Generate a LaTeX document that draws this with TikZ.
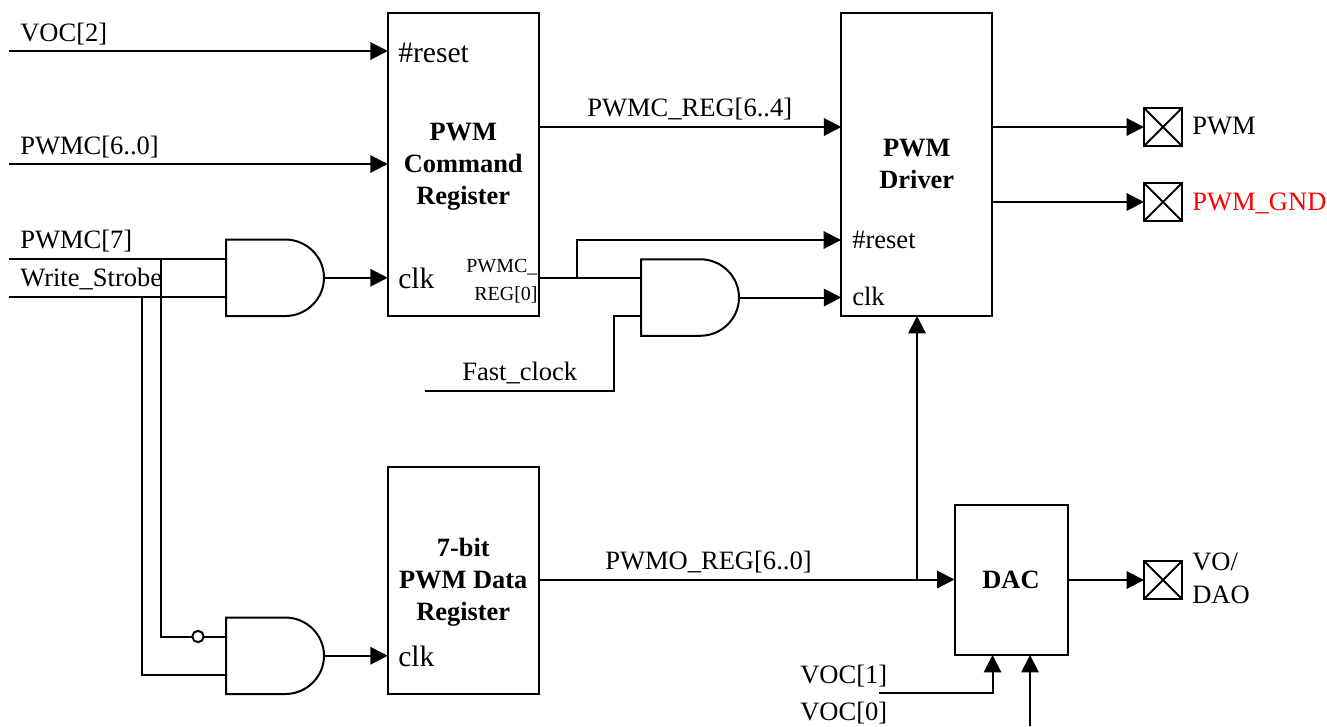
\documentclass[tikz,border=0pt]{standalone}
\usepackage{fontspec}
\setmainfont{Liberation Serif}
\usetikzlibrary{arrows.meta,calc}
\definecolor{pwmred}{RGB}{255,0,0}
\tikzset{
  x=0.75pt,y=-0.75pt,
  wire/.style={line width=1.5pt,line cap=butt,line join=miter},
  sig/.style={wire,-{Triangle[length=13pt,width=13pt]}},
  blockbox/.style={draw,line width=1.5pt,rectangle,inner sep=0pt,outer sep=0pt},
  blocktext/.style={inner sep=0pt,outer sep=0pt,align=center,
     font=\fontsize{19.8}{24}\selectfont\bfseries},
  padbox/.style={draw,line width=1.5pt,rectangle,inner sep=0pt,outer sep=0pt,
     minimum width=28.5pt,minimum height=28.5pt},
  lbl/.style={anchor=base west,inner sep=0pt,font=\fontsize{19.9}{24}\selectfont},
  biglbl/.style={anchor=base west,inner sep=0pt,font=\fontsize{22.2}{26}\selectfont},
  smalllbl/.style={anchor=base west,inner sep=0pt,font=\fontsize{15}{18}\selectfont},
}
\newcommand{\andgate}[3]{%
  \coordinate (#1-a) at (#2,#3+19);
  \coordinate (#1-b) at (#2,#3+57);
  \coordinate (#1-o) at (#2+98,#3+38.25);
  \draw[line width=1.5pt,line join=miter] (#2,#3) -- (#2+59,#3)
     arc[start angle=90,end angle=-90,x radius=29.25pt,y radius=28.7pt]
     -- (#2,#3+76.5) -- cycle;
}
\begin{document}
\begin{tikzpicture}
\useasboundingbox (0,0) rectangle (1327,726);

% blocks
\node[blockbox,minimum width=113.25pt,minimum height=227.25pt] (cmd) at (463.25,164.5) {};
\node[blockbox,minimum width=113.25pt,minimum height=227.25pt] (drv) at (916.75,164.5) {};
\node[blockbox,minimum width=113.25pt,minimum height=170.25pt] (data) at (463.25,580.5) {};
\node[blockbox,minimum width=84.75pt,minimum height=112.5pt] (dac) at (1011,580) {};
\node[blocktext] (cmdtext) at (463.25,166.5) {PWM\\Command\\Register};
\node[blocktext] (drvtext) at (916.75,163.5) {PWM\\Driver};
\node[blocktext] (datatext) at (463.25,582.5) {7-bit\\PWM Data\\Register};
\node[blocktext] (dactext) at (1011,580) {DAC};

% pads
\node[padbox] (padpwm) at (1163,127) {};
\node[padbox] (padgnd) at (1163,202) {};
\node[padbox] (padvo) at (1163,580) {};
\foreach \p in {padpwm,padgnd,padvo}{
  \draw[line width=1.5pt] (\p.north west) -- (\p.south east);
  \draw[line width=1.5pt] (\p.north east) -- (\p.south west);
}

% gates
\andgate{gone}{226}{239.5}
\andgate{gtwo}{641}{259.25}
\andgate{gthree}{226}{617.5}

% free ends and junctions
\coordinate (voctwo) at (9,51);
\coordinate (pwmcall) at (9,164);
\coordinate (pwmcsev) at (9,258.5);
\coordinate (wstrobe) at (9,296.5);
\coordinate (fastclk) at (425,391);
\coordinate (vocone) at (879,693);
\coordinate (voczero) at (1030,726);
\coordinate (jreset) at (577,278.25);
\coordinate (jfast) at (614,391);
\coordinate (jdrv) at (917,579.5);
\coordinate (jseven) at (161,258.5);
\coordinate (jwrite) at (142,296.5);
\node[circle,draw,line width=1.5pt,fill=white,inner sep=0pt,outer sep=0pt,minimum size=8.5pt] (bubble) at (198,636.5) {};

% connectors
\draw[sig] (voctwo) -- (voctwo -| cmd.west);
\draw[sig] (pwmcall) -- (pwmcall -| cmd.west);
\draw[wire] (pwmcsev) -- (gone-a);
\draw[wire] (wstrobe) -- (gone-b);
\draw[sig] (gone-o) -- (gone-o -| cmd.west);
\draw[wire] (jseven) -- (jseven |- bubble) -- (bubble.west);
\draw[wire] (bubble.east) -- (gthree-a);
\draw[wire] (jwrite) -- (jwrite |- gthree-b) -- (gthree-b);
\draw[sig] (gthree-o) -- (gthree-o -| data.west);
\draw[sig] ($(cmd.east |- drv.west)+(0,-37.5)$) -- ($(drv.west)+(0,-37.5)$);
\draw[sig] ($(drv.east)+(0,-37.5)$) -- (padpwm.west);
\draw[sig] (drv.east |- padgnd.west) -- (padgnd.west);
\draw[wire] (jreset -| cmd.east) -- (gtwo-a);
\draw[sig] (jreset) -- ++(0,-38.25) -- ++(264,0);
\draw[sig] (gtwo-o) -- (gtwo-o -| drv.west);
\draw[wire] (fastclk) -- (jfast) -- (jfast |- gtwo-b) -- (gtwo-b);
\draw[sig] (data.east |- jdrv) -- (jdrv) -- (jdrv -| dac.west);
\draw[sig] (jdrv) -- (jdrv |- drv.south);
\draw[sig] (dac.east) -- (padvo.west);
\draw[sig] (vocone) -- (vocone -| 992.5,0) -- (992.5,0 |- dac.south);
\draw[sig] (voczero) -- (voczero |- dac.south);

% labels
\node[lbl] (tvoctwo) at (20,41) {VOC[2]};
\node[lbl] (tpwmcall) at (20,154) {PWMC[6..0]};
\node[lbl] (tpwmcsev) at (20,248) {PWMC[7]};
\node[lbl] (twrite) at (20,286) {Write\_Strobe};
\node[biglbl] (tresetone) at (398,62) {\#reset};
\node[biglbl] (tclkone) at (398,288) {clk};
\node[biglbl] (tclktwo) at (398,666) {clk};
\node[smalllbl] (tregone) at (466,272) {PWMC\_};
\node[smalllbl] (tregtwo) at (474,300) {REG[0]};
\node[lbl] (tregsix) at (587,116) {PWMC\_REG[6..4]};
\node[lbl] (tresettwo) at (852,248) {\#reset};
\node[lbl] (tclkdrv) at (852,305) {clk};
\node[lbl] (tfast) at (462,380) {Fast\_clock};
\node[lbl] (tpwmo) at (605,569) {PWMO\_REG[6..0]};
\node[lbl] (tpwm) at (1192,134) {PWM};
\node[lbl,text=pwmred] (tgnd) at (1192,210) {PWM\_GND};
\node[lbl] (tvo) at (1192,570) {VO/};
\node[lbl] (tdao) at (1192,603) {DAO};
\node[lbl] (tvocone) at (800,683) {VOC[1]};
\node[lbl] (tvoczero) at (800,720) {VOC[0]};
\end{tikzpicture}
\end{document}
